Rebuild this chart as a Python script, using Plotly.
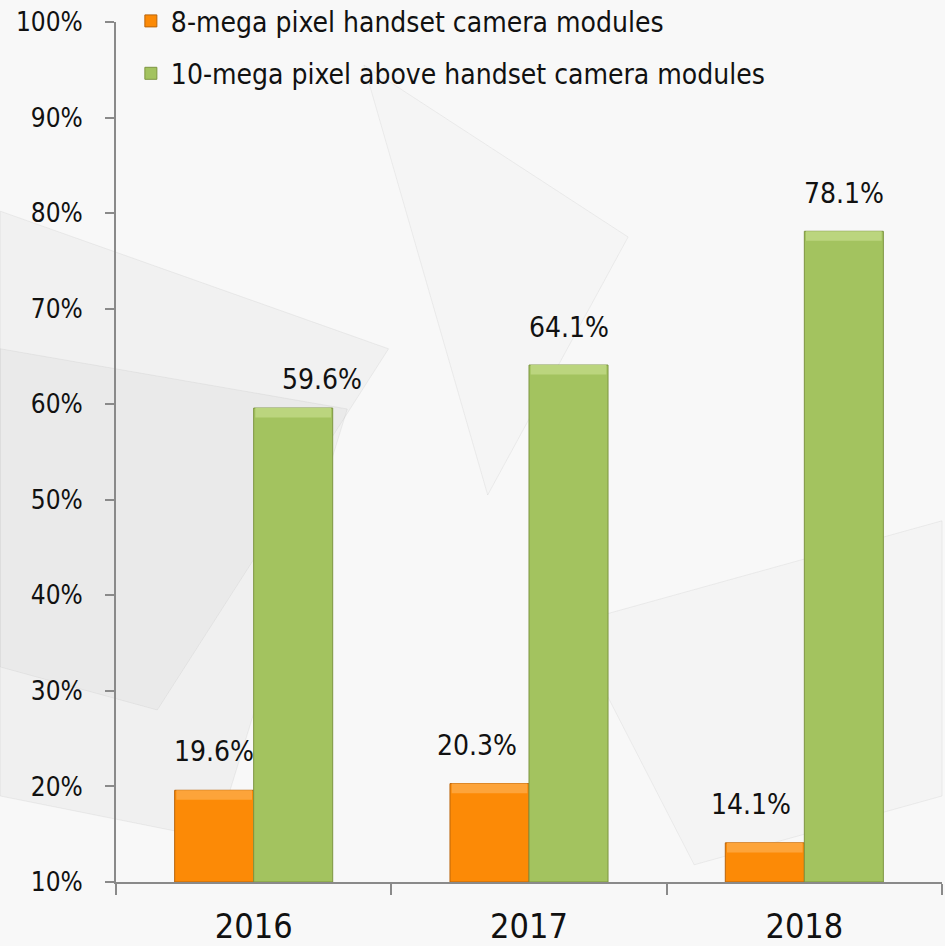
import plotly.graph_objects as go

# ---- data ----
years = ["2016", "2017", "2018"]
mp8_values = [19.6, 20.3, 14.1]
mp10_values = [59.6, 64.1, 78.1]
series_names = ["8-mega pixel handset camera modules",
                "10-mega pixel above handset camera modules"]
y_ticks = [10, 20, 30, 40, 50, 60, 70, 80, 90, 100]

# ---- style ----
FONT = "DejaVu Sans Condensed, DejaVu Sans, sans-serif"
BAR_W = 0.287
ORANGE, ORANGE_TOP, ORANGE_EDGE = "#FC8A06", "#FDA43A", "#B9650C"
GREEN, GREEN_TOP, GREEN_EDGE = "#A3C35F", "#BBD57E", "#7D9541"
BEVEL = 1.0  # bevel strip height in axis units
# label nudges (px): (xshift, yshift) per bar
mp8_nudge = [(0, 20), (-12, 20), (-14, 20)]
mp10_nudge = [(29, 10), (0, 19), (0, 19)]

fig = go.Figure()

for name, vals, off, body, top, edge, grp in [
    (series_names[0], mp8_values, -BAR_W, ORANGE, ORANGE_TOP, ORANGE_EDGE, "a"),
    (series_names[1], mp10_values, 0.0, GREEN, GREEN_TOP, GREEN_EDGE, "b"),
]:
    fig.add_trace(go.Bar(
        x=years, y=[v - 10 for v in vals], base=10, name=name,
        offset=off, width=BAR_W, legendgroup=grp,
        marker=dict(color=body, line=dict(color=edge, width=1)),
        hoverinfo="skip",
    ))
    # top bevel highlight
    fig.add_trace(go.Bar(
        x=years, y=[BEVEL] * len(vals), base=[v - BEVEL for v in vals],
        offset=off + 0.006, width=BAR_W - 0.012, showlegend=False,
        legendgroup=grp, marker=dict(color=top, line=dict(width=0)),
        hoverinfo="skip",
    ))

# data labels
for vals, off, nudges in [(mp8_values, -BAR_W / 2, mp8_nudge),
                          (mp10_values, BAR_W / 2, mp10_nudge)]:
    for i, v in enumerate(vals):
        fig.add_annotation(
            x=i + off, y=v, text=f"{v:.1f}%", showarrow=False,
            xanchor="center", yanchor="bottom",
            xshift=nudges[i][0], yshift=nudges[i][1],
            font=dict(family=FONT, size=28, color="#111111"),
        )

# faint background polygons (decorative)
bg_polys = [
    ("M-0.14,0.78 L0.33,0.62 L0.05,0.20 L-0.14,0.25 Z", "rgba(200,200,200,0.12)"),
    ("M-0.14,0.62 L0.28,0.55 L0.12,0.05 L-0.14,0.10 Z", "rgba(190,190,190,0.12)"),
    ("M0.55,0.30 L1,0.42 L1,0.10 L0.70,0.02 Z", "rgba(225,225,225,0.12)"),
    ("M0.30,0.95 L0.62,0.75 L0.45,0.45 Z", "rgba(230,230,230,0.10)"),
]
for path, col in bg_polys:
    fig.add_shape(type="path", path=path, xref="paper", yref="paper",
                  fillcolor=col, line=dict(color="rgba(180,180,180,0.18)", width=1),
                  layer="below")

fig.update_layout(
    width=945, height=946,
    margin=dict(l=116, r=3, t=22, b=64, autoexpand=False),
    paper_bgcolor="#f8f8f8",
    plot_bgcolor="rgba(0,0,0,0)",
    barmode="overlay",
    font=dict(family=FONT, color="#111111"),
    showlegend=True,
    legend=dict(
        x=0.018, y=1.03, xanchor="left", yanchor="top",
        bgcolor="rgba(0,0,0,0)", font=dict(family=FONT, size=28),
        tracegroupgap=13, itemwidth=30,
    ),
    xaxis=dict(
        type="category", range=[-0.5, 2.5], automargin=False,
        showline=True, linecolor="#8a8a8a", linewidth=2,
        ticks="outside", tickson="boundaries", ticklen=11,
        tickcolor="#8a8a8a", tickwidth=2,
        tickfont=dict(family=FONT, size=34, color="#111111"),
        ticklabelstandoff=13, showgrid=False, zeroline=False,
    ),
    yaxis=dict(
        range=[10, 100], tickvals=y_ticks, automargin=False,
        ticktext=[f"{t}%" for t in y_ticks],
        showline=True, linecolor="#8a8a8a", linewidth=2,
        ticks="outside", ticklen=9, tickcolor="#8a8a8a", tickwidth=2,
        tickfont=dict(family=FONT, size=26, color="#111111"),
        ticklabelstandoff=17, showgrid=False, zeroline=False,
    ),
)

fig.write_html("out.html")
